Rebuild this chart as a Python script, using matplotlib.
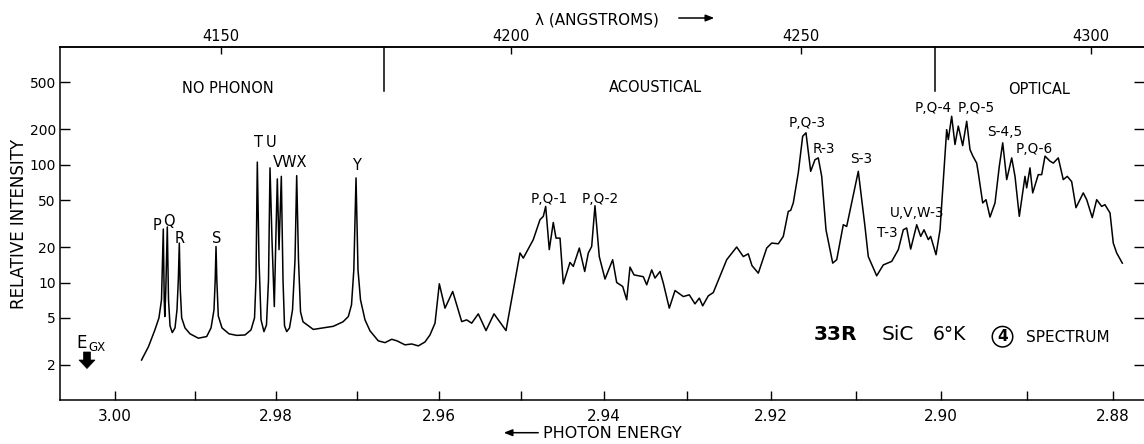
import matplotlib
matplotlib.use("Agg")
import matplotlib.pyplot as plt
import numpy as np
from matplotlib.patches import Polygon
from matplotlib.ticker import NullLocator, FixedLocator

# ---------------- data ----------------
# wavelength (Angstrom, linear axis) and relative intensity (log axis)
wavelength = [4136.3, 4137.5, 4138.6, 4139.3, 4139.74, 4140.05, 4140.21, 4140.31, 4140.48, 4140.74,
              4140.95, 4141.21, 4141.60, 4142.07, 4142.41, 4142.64, 4142.81, 4142.98, 4143.22, 4143.79,
              4144.66, 4146.09, 4147.53, 4148.28, 4148.79, 4149.0, 4149.14, 4149.28, 4149.53, 4150.17,
              4151.38, 4152.71, 4154.14, 4155.17, 4155.78, 4156.03, 4156.26, 4156.55, 4156.90, 4157.41,
              4157.84, 4158.19, 4158.45, 4158.79, 4159.19, 4159.45, 4159.71, 4160.0, 4160.40, 4160.69,
              4160.95, 4161.33, 4161.81, 4162.33, 4162.76, 4163.05, 4163.36, 4163.71, 4164.14, 4165.91,
              4169.36, 4171.03, 4171.95, 4172.50, 4172.90, 4173.28, 4173.62, 4174.05, 4174.83, 4175.69,
              4177.12, 4178.28, 4179.43, 4180.34, 4181.72, 4182.88, 4184.02, 4185.17, 4186.03, 4186.90,
              4187.64, 4188.62, 4189.95, 4191.50, 4192.36, 4193.22, 4194.36, 4195.69, 4197.07, 4199.14,
              4201.55, 4202.12, 4203.84, 4205.0, 4205.57, 4205.98, 4206.60, 4207.29, 4207.76, 4208.45,
              4209.02, 4210.17, 4210.74, 4211.78, 4212.71, 4213.33, 4213.91, 4214.48, 4215.22, 4216.21,
              4217.53, 4218.22, 4219.26, 4219.95, 4220.52, 4221.21, 4222.81, 4223.40, 4224.26, 4224.83,
              4225.69, 4226.26, 4227.29, 4228.28, 4229.71, 4230.74, 4231.72, 4232.47, 4233.05, 4234.02,
              4234.88, 4237.19, 4238.91, 4240.05, 4240.91, 4241.55, 4242.64, 4244.09, 4244.95, 4246.09,
              4246.95, 4247.81, 4248.22, 4248.67, 4249.53, 4250.29, 4250.86, 4251.67, 4252.41, 4252.98,
              4253.57, 4254.31, 4255.47, 4256.16, 4257.29, 4257.88, 4259.88, 4261.03, 4261.60, 4263.05,
              4264.19, 4265.64, 4266.78, 4267.64, 4268.22, 4268.91, 4269.95, 4270.64, 4271.21, 4271.95,
              4272.36, 4273.28, 4273.97, 4275.12, 4275.40, 4275.98, 4276.55, 4277.12, 4277.88, 4278.57,
              4279.14, 4279.60, 4280.29, 4280.57, 4281.33, 4281.90, 4282.59, 4283.45, 4284.19, 4284.78,
              4285.47, 4286.33, 4286.90, 4287.64, 4288.62, 4288.91, 4289.48, 4289.95, 4290.91, 4291.50,
              4292.07, 4292.93, 4293.50, 4294.36, 4295.22, 4295.91, 4296.67, 4297.41, 4298.67, 4299.26,
              4300.22, 4300.98, 4301.84, 4302.41, 4303.28, 4303.84, 4304.43, 4305.40]

intensity = [2.20, 2.86, 3.96, 5.01, 7.13, 28.4, 7.13, 5.14, 8.67, 29.6,
             7.13, 4.29, 3.76, 4.12, 5.86, 10.5, 21.6, 8.67, 5.01, 4.12,
             3.67, 3.37, 3.48, 4.12, 5.86, 10.5, 20.2, 10.5, 5.21, 4.12,
             3.67, 3.56, 3.59, 3.96, 5.01, 10.5, 105, 15.6, 4.82, 3.83,
             4.37, 10.5, 93.8, 23.1, 6.25, 23.1, 75.6, 19.0, 79.5, 10.5,
             4.29, 3.83, 4.12, 5.86, 15.6, 80.6, 15.6, 5.64, 4.64, 4.00,
             4.25, 4.64, 5.14, 6.46, 12.8, 77.1, 12.8, 7.13, 4.82, 3.89,
             3.20, 3.09, 3.30, 3.20, 2.96, 3.01, 2.90, 3.13, 3.59, 4.52,
             9.75, 6.06, 8.39, 4.66, 4.82, 4.52, 5.42, 3.91, 5.42, 3.91,
             17.8, 16.1, 23.1, 34.1, 36.4, 44.2, 19.0, 32.3, 23.8, 23.8,
             9.75, 14.8, 13.7, 19.6, 12.4, 17.8, 20.2, 44.8, 16.6, 10.7,
             15.6, 10.0, 9.25, 7.13, 13.5, 11.6, 11.2, 9.56, 12.8, 10.9,
             12.4, 9.88, 6.06, 8.55, 7.60, 7.86, 6.59, 7.37, 6.34, 7.71,
             8.22, 15.6, 20.0, 16.6, 17.5, 13.9, 12.0, 19.6, 21.6, 21.3,
             24.6, 40.1, 40.9, 47.3, 85.0, 174, 186, 87.7, 110, 114,
             79.5, 28.0, 14.6, 15.6, 30.9, 29.9, 87.7, 29.9, 16.6, 11.4,
             14.1, 15.1, 19.0, 28.0, 29.0, 19.2, 30.9, 24.6, 28.0, 23.1,
             24.6, 17.2, 28.0, 198, 163, 257, 148, 212, 145, 233,
             134, 119, 103, 85.0, 47.3, 50.4, 35.9, 47.3, 96.7, 153,
             74.6, 114, 79.5, 36.4, 79.5, 63.4, 93.8, 57.5, 82.2, 82.2,
             118, 107, 103, 114, 74.6, 79.5, 71.7, 43.1, 57.5, 50.4,
             35.5, 50.4, 44.2, 45.7, 38.9, 21.6, 17.8, 14.6]

wl_ticks = [4150, 4200, 4250, 4300]
energy_major = [3.00, 2.98, 2.96, 2.94, 2.92, 2.90, 2.88]
energy_minor = [2.99, 2.97, 2.95, 2.93, 2.91, 2.89]
energy_labels = ["3.00", "2.98", "2.96", "2.94", "2.92", "2.90", "2.88"]
y_ticks = [2, 5, 10, 20, 50, 100, 200, 500]
region_bounds = [4178.1, 4273.05]
HC_AIR = 12395.0  # eV*Angstrom (air wavelengths), to place the energy ticks

# ---------------- figure ----------------
W, H = 1144, 444
fig = plt.figure(figsize=(W / 100, H / 100), dpi=100)
plt.rcParams['font.family'] = ['DejaVu Sans']

left, right, top, bottom = 60, 1144, 46.7, 400.4
ax = fig.add_axes([left / W, 1 - bottom / H, (right - left) / W, (bottom - top) / H])
ax.set_yscale('log')
ax.set_xlim(4122.24, 4309.14)
ax.set_ylim(1, 1000)

ax.plot(wavelength, intensity, color='black', lw=1.1, solid_joinstyle='round')

# region dividers from the top
for b in region_bounds:
    ax.plot([b, b], [417, 1000], color='black', lw=1.1, clip_on=False)

# y axis
ax.yaxis.set_major_locator(FixedLocator(y_ticks))
ax.yaxis.set_minor_locator(NullLocator())
ax.set_yticklabels([str(v) for v in y_ticks])
ax.tick_params(axis='y', which='major', direction='in', length=7, width=1.0,
               labelsize=10, pad=3, left=True, right=True)
ax.spines['right'].set_visible(False)

# bottom energy axis (positions from the energy values)
ax.set_xticks([HC_AIR / e for e in energy_major])
ax.set_xticklabels(energy_labels)
ax.xaxis.set_minor_locator(FixedLocator([HC_AIR / e for e in energy_minor]))
ax.tick_params(axis='x', which='both', direction='in', length=6.5, width=1.0,
               labelsize=11, pad=6, top=False)

# top wavelength axis
sec = ax.secondary_xaxis('top')
sec.set_xticks(wl_ticks)
sec.set_xticklabels([str(v) for v in wl_ticks])
sec.tick_params(axis='x', direction='in', length=5, width=1.0, labelsize=10.5, pad=2)
sec.xaxis.set_minor_locator(NullLocator())

for s in ['left', 'top', 'bottom']:
    ax.spines[s].set_linewidth(1.1)
sec.spines['top'].set_linewidth(1.1)


def P(x, y):
    return (x / W, 1 - y / H)


def ftext(x, y, s, size=10, **kw):
    kw.setdefault('ha', 'center')
    kw.setdefault('va', 'center')
    fig.text(*P(x, y), s, fontsize=size, **kw)


# axis titles
ftext(18.7, 224, "RELATIVE INTENSITY", 12, rotation=90)
ftext(612, 433.3, "PHOTON ENERGY", 11.5)
fig.add_artist(matplotlib.patches.FancyArrowPatch(P(541, 432.7), P(501, 432.7),
               transform=fig.transFigure, arrowstyle='-|>,head_length=5,head_width=2',
               lw=1.1, color='black'))
ftext(596.8, 20, "λ (ANGSTROMS)", 11)
fig.add_artist(matplotlib.patches.FancyArrowPatch(P(676, 18), P(717, 18),
               transform=fig.transFigure, arrowstyle='-|>,head_length=5,head_width=2',
               lw=1.1, color='black'))

# region names
ftext(228.3, 88.8, "NO PHONON", 10.5)
ftext(655, 87.8, "ACOUSTICAL", 10.5)
ftext(1039.2, 89.2, "OPTICAL", 10.5)

# peak labels
peak_labels = [
    ("P", 156.7, 225.3), ("Q", 168.7, 221.7), ("R", 180, 238.3), ("S", 216.2, 238.3),
    ("T", 258.3, 142.5), ("U", 271.3, 142.5), ("VWX", 290, 162.5), ("Y", 356.2, 165.3),
    ("P,Q-1", 548.7, 198.7), ("P,Q-2", 600.2, 198.7), ("P,Q-3", 807.5, 122.8),
    ("R-3", 823.8, 149.2), ("S-3", 861.2, 159.2), ("T-3", 887.5, 233.2),
    ("U,V,W-3", 917, 212.5), ("P,Q-4", 932.8, 108.2), ("P,Q-5", 976.7, 108.2),
    ("S-4,5", 1004.7, 131.8), ("P,Q-6", 1034.5, 149.2),
]
for s, x, y in peak_labels:
    ftext(x, y, s, 10.5 if len(s) == 1 or s == "VWX" else 9.8)

# sample annotation
ftext(835, 334.8, "33R", 14.5, fontweight='bold')
ftext(898.3, 334.8, "SiC", 14.5)
ftext(949.3, 334.8, "6°K", 13.5)
ftext(1002.5, 336.7, "4", 11, fontweight='bold',
      bbox=dict(boxstyle='circle,pad=0.18', fc='white', ec='black', lw=1.1))
ftext(1068.3, 337, "SPECTRUM", 11)

# E_GX marker
ftext(76, 342.5, "E", 12, ha='left')
ftext(88.3, 347.5, "GX", 8.5, ha='left')
arrow_px = [(83.5, 352), (90.5, 352), (90.5, 360), (95, 360), (87, 368.5), (79, 360), (83.5, 360)]
fig.add_artist(Polygon([P(*p) for p in arrow_px], closed=True, transform=fig.transFigure,
                       fc='black', ec='black', lw=0.5))

fig.savefig("out.png", dpi=100, facecolor='white')
